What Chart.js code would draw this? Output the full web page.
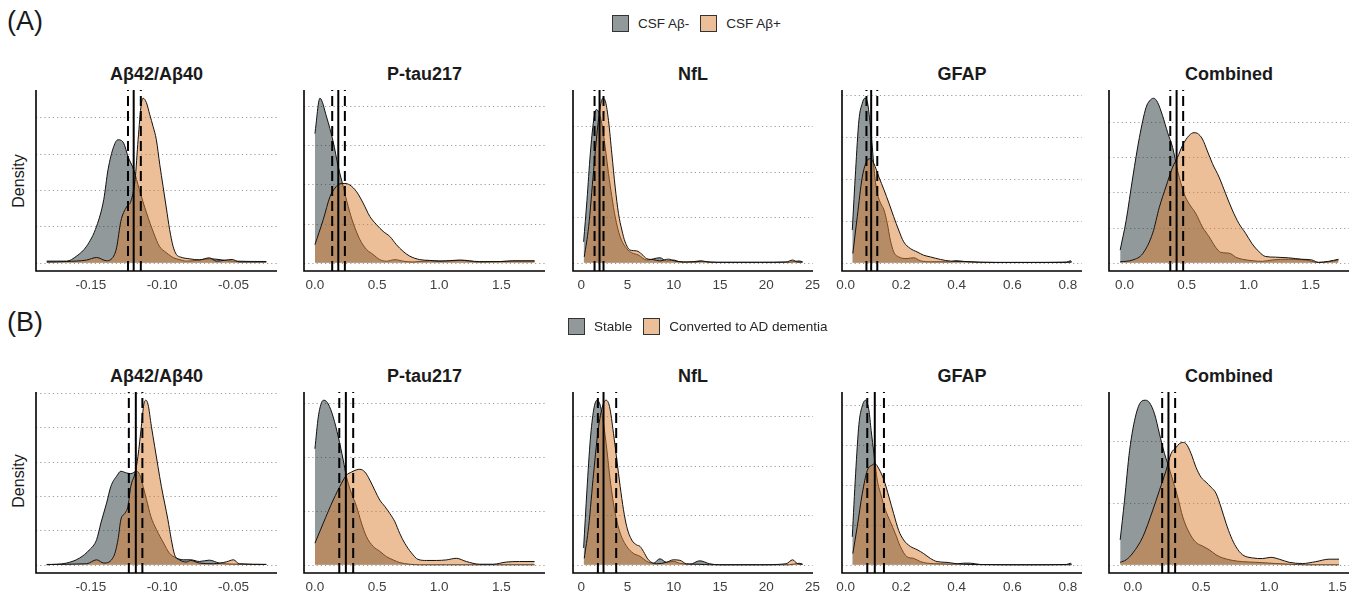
<!DOCTYPE html>
<html>
<head>
<meta charset="utf-8">
<script src="https://cdn.jsdelivr.net/npm/chart.js@4.4.0/dist/chart.umd.min.js"></script>
<style>
  body { margin:0; width:1359px; height:596px; background:#fff; position:relative; overflow:hidden;
         font-family:"Liberation Sans", Arial, Helvetica, sans-serif; color:#1a1a1a; }
  .tag { position:absolute; font-size:27px; line-height:30px; }
  .title { position:absolute; width:160px; text-align:center; font-size:18px; font-weight:bold; line-height:22px; }
  .ylab { position:absolute; width:100px; height:20px; line-height:20px; text-align:center; font-size:16px; transform:rotate(-90deg); }
  .legend { position:absolute; display:flex; align-items:center; height:17px; font-size:13.5px; color:#262626; }
  .key { width:17px; height:17px; box-sizing:border-box; border:1px solid #333; margin-right:9px; }
  .legend span { margin-right:11px; line-height:17px; white-space:nowrap; }
</style>
</head>
<body>
<script>
// --- data: density curves, [value, density] ---
// (A) CSF Aβ- vs CSF Aβ+
const aAbNeg = [[-0.181,0.9],[-0.167,0.9],[-0.160,3.7],[-0.153,9.1],[-0.146,20.1],[-0.141,34.7],[-0.138,51.1],[-0.134,63.9],[-0.131,67.6],[-0.127,65.7],[-0.124,58.4],[-0.120,51.1],[-0.116,40.2],[-0.111,27.4],[-0.106,16.4],[-0.102,9.1],[-0.097,5.5],[-0.092,2.7],[-0.088,1.8],[-0.083,0.9],[-0.074,1.5],[-0.067,2.2],[-0.050,0.9],[-0.027,0.7]];
const aAbPos = [[-0.181,0.4],[-0.167,0.7],[-0.153,1.5],[-0.146,2.9],[-0.139,1.1],[-0.134,3.7],[-0.132,8.2],[-0.129,22.8],[-0.125,30.7],[-0.122,33.8],[-0.119,45.7],[-0.1169,67.6],[-0.1146,87.6],[-0.1134,90.4],[-0.1111,88.0],[-0.1087,81.3],[-0.1064,74.9],[-0.1041,67.6],[-0.1017,53.9],[-0.0994,42.0],[-0.0971,30.1],[-0.0948,18.3],[-0.0924,9.1],[-0.0901,4.6],[-0.087,3.1],[-0.081,2.2],[-0.074,1.6],[-0.067,2.7],[-0.062,0.9],[-0.051,1.8],[-0.046,0.5],[-0.027,0.5]];
const aAbCut = [-0.124, -0.120, -0.115];

const aPtauNeg = [[0,3.29],[0.040,4.19],[0.094,3.71],[0.147,3.08],[0.188,2.44],[0.228,1.94],[0.268,1.43],[0.308,1.01],[0.362,0.59],[0.415,0.34],[0.469,0.21],[0.522,0.08],[0.576,0.04],[0.643,0.08],[0.710,0.04],[0.790,0.02],[0.924,0.05],[1.058,0.04],[1.165,0.06],[1.326,0.02],[1.594,0.04],[1.768,0.04]];
const aPtauPos = [[0,0.46],[0.067,1.10],[0.121,1.68],[0.161,1.90],[0.201,2.01],[0.241,2.02],[0.281,1.98],[0.335,1.81],[0.388,1.52],[0.442,1.18],[0.496,0.97],[0.549,0.80],[0.603,0.67],[0.656,0.46],[0.710,0.29],[0.763,0.17],[0.844,0.08],[0.924,0.06],[1.005,0.04],[1.165,0.07],[1.326,0.03],[1.487,0.03],[1.594,0.05],[1.768,0.05]];
const aPtauCut = [0.139, 0.188, 0.241];

const aNflNeg = [[0.25,0.046],[0.61,0.137],[0.97,0.239],[1.33,0.312],[1.61,0.336],[1.87,0.331],[2.22,0.305],[2.58,0.254],[2.94,0.196],[3.30,0.145],[3.66,0.101],[4.20,0.057],[4.91,0.031],[5.45,0.022],[6.17,0.017],[7.07,0.006],[8.50,0.011],[9.22,0.004],[9.94,0.006],[10.65,0.002],[11.37,0.001],[12.80,0.004],[13.52,0.002],[14.60,0.001],[19.26,0.001],[22.49,0.0015],[23.57,0.004],[23.92,0.002]];
const aNflPos = [[0.32,0.013],[0.79,0.079],[1.33,0.203],[1.69,0.283],[2.04,0.342],[2.33,0.361],[2.62,0.353],[2.94,0.312],[3.30,0.239],[3.66,0.166],[4.02,0.108],[4.38,0.072],[4.73,0.046],[5.27,0.028],[5.99,0.026],[6.53,0.019],[7.07,0.009],[7.78,0.007],[8.50,0.004],[9.40,0.008],[10.11,0.004],[11.01,0.002],[12.45,0.002],[12.98,0.004],[13.88,0.0015],[15.67,0.001],[19.26,0.001],[22.13,0.0015],[22.85,0.006],[23.39,0.0015],[23.92,0.0015]];
const aNflCut = [1.43, 1.97, 2.40];

const aGfapNeg = [[0.024,3.9],[0.036,11.0],[0.048,17.0],[0.060,19.0],[0.069,19.6],[0.078,19.2],[0.087,17.0],[0.096,13.8],[0.104,10.6],[0.114,8.3],[0.126,7.1],[0.138,6.3],[0.150,4.7],[0.161,2.7],[0.173,1.3],[0.191,0.7],[0.221,0.5],[0.245,0.6],[0.269,0.24],[0.305,0.12],[0.377,0.12],[0.395,0.24],[0.425,0.16],[0.484,0.04],[0.664,0.04],[0.795,0.08],[0.810,0.24],[0.813,0.08]];
const aGfapPos = [[0.026,1.1],[0.042,5.5],[0.060,10.2],[0.078,12.2],[0.090,12.4],[0.102,11.8],[0.120,10.2],[0.138,8.7],[0.156,7.1],[0.173,5.5],[0.191,3.9],[0.209,2.5],[0.233,1.7],[0.257,1.3],[0.281,0.9],[0.305,0.7],[0.341,0.4],[0.377,0.2],[0.425,0.16],[0.484,0.08],[0.544,0.04],[0.664,0.04],[0.783,0.04],[0.813,0.08]];
const aGfapCut = [0.075, 0.092, 0.114];

const aCombNeg = [[-0.035,0.18],[0.013,0.60],[0.067,1.22],[0.120,1.78],[0.174,2.21],[0.201,2.30],[0.235,2.34],[0.267,2.28],[0.307,2.09],[0.348,1.85],[0.388,1.64],[0.428,1.31],[0.481,0.98],[0.521,0.84],[0.575,0.70],[0.628,0.51],[0.682,0.37],[0.735,0.22],[0.775,0.15],[0.816,0.14],[0.856,0.13],[0.896,0.08],[0.949,0.05],[1.029,0.03],[1.110,0.02],[1.190,0.04],[1.324,0.05],[1.457,0.04],[1.564,0.005],[1.644,0.014],[1.725,0.04]];
const aCombPos = [[-0.035,0.014],[0.067,0.04],[0.147,0.13],[0.227,0.42],[0.281,0.79],[0.334,1.08],[0.388,1.36],[0.428,1.50],[0.468,1.67],[0.521,1.81],[0.561,1.85],[0.588,1.84],[0.628,1.76],[0.668,1.59],[0.709,1.41],[0.762,1.22],[0.816,0.98],[0.869,0.75],[0.922,0.56],[0.976,0.42],[1.029,0.27],[1.083,0.16],[1.136,0.09],[1.217,0.08],[1.324,0.07],[1.430,0.05],[1.511,0.04],[1.564,0.005],[1.644,0.02],[1.725,0.05]];
const aCombCut = [0.369, 0.420, 0.473];

// (B) Stable vs Converted to AD dementia
const bAbStable = [[-0.181,0],[-0.167,1.0],[-0.158,3.9],[-0.151,8.7],[-0.146,14.6],[-0.143,24.3],[-0.139,35.9],[-0.136,45.6],[-0.132,51.5],[-0.129,54.4],[-0.125,53.4],[-0.122,53.0],[-0.118,54.4],[-0.1157,52.4],[-0.1134,45.6],[-0.111,37.9],[-0.108,28.2],[-0.104,20.4],[-0.099,12.6],[-0.095,6.8],[-0.090,3.9],[-0.085,2.9],[-0.080,2.9],[-0.074,1.9],[-0.067,2.7],[-0.060,1.0],[-0.050,0.4],[-0.027,0.2]];
const bAbConv = [[-0.181,0.2],[-0.153,0.6],[-0.146,2.9],[-0.141,1.0],[-0.134,4.9],[-0.131,14.6],[-0.129,26.2],[-0.126,30.1],[-0.124,34.0],[-0.122,45.6],[-0.119,53.4],[-0.117,63.1],[-0.1146,80.6],[-0.1129,93.2],[-0.1115,95.7],[-0.1099,93.2],[-0.1076,80.6],[-0.1053,68.9],[-0.103,57.3],[-0.1006,45.6],[-0.0983,35.9],[-0.096,26.2],[-0.0936,14.6],[-0.0913,5.8],[-0.088,2.9],[-0.083,1.6],[-0.080,2.5],[-0.074,1.0],[-0.064,0.6],[-0.055,1.7],[-0.050,2.9],[-0.046,0.6],[-0.027,0.2]];
const bAbCut = [-0.1234, -0.1185, -0.1139];

const bPtauStable = [[0,2.15],[0.027,2.74],[0.054,3.01],[0.072,3.05],[0.107,2.98],[0.147,2.74],[0.188,2.37],[0.228,1.94],[0.254,1.63],[0.295,1.32],[0.335,1.08],[0.375,0.77],[0.415,0.52],[0.469,0.34],[0.522,0.25],[0.576,0.15],[0.630,0.09],[0.683,0.04],[0.763,0.01],[0.844,0],[1.058,0],[1.768,0]];
const bPtauConv = [[0,0.40],[0.067,0.77],[0.147,1.20],[0.214,1.51],[0.254,1.66],[0.295,1.72],[0.335,1.76],[0.362,1.77],[0.402,1.72],[0.442,1.57],[0.482,1.38],[0.522,1.20],[0.563,1.08],[0.603,0.95],[0.643,0.80],[0.683,0.58],[0.723,0.40],[0.777,0.22],[0.830,0.10],[0.897,0.08],[0.978,0.08],[1.058,0.09],[1.138,0.12],[1.219,0.06],[1.326,0.01],[1.433,0.01],[1.540,0.05],[1.647,0.06],[1.768,0.06]];
const bPtauCut = [0.196, 0.249, 0.308];

const bNflStable = [[0.25,0.034],[0.61,0.151],[0.97,0.252],[1.33,0.312],[1.69,0.332],[2.04,0.322],[2.40,0.285],[2.76,0.232],[3.12,0.171],[3.66,0.104],[4.20,0.064],[4.91,0.037],[5.63,0.023],[6.35,0.017],[7.07,0.007],[7.78,0.003],[8.50,0.012],[9.22,0.005],[9.94,0.007],[10.65,0.003],[11.73,0.001],[12.80,0.008],[13.88,0.002],[14.96,0],[19.26,0],[22.49,0],[23.57,0.003],[23.92,0.001]];
const bNflConv = [[0.32,0.013],[0.79,0.077],[1.33,0.185],[1.87,0.279],[2.40,0.326],[2.69,0.332],[3.05,0.319],[3.48,0.265],[3.84,0.211],[4.20,0.158],[4.56,0.111],[4.91,0.077],[5.45,0.050],[5.99,0.040],[6.35,0.037],[6.71,0.027],[7.25,0.010],[8.14,0.002],[9.22,0.005],[9.94,0.010],[10.65,0.009],[11.37,0.002],[12.80,0.001],[13.88,0],[19.26,0],[22.13,0.002],[22.85,0.010],[23.39,0.002],[23.92,0.001]];
const bNflCut = [1.79, 2.40, 3.77];

const bGfapStable = [[0.024,3.5],[0.036,11.4],[0.048,17.6],[0.060,19.9],[0.072,20.6],[0.084,19.3],[0.092,16.8],[0.102,13.9],[0.114,10.6],[0.126,8.9],[0.144,6.8],[0.161,5.4],[0.179,3.9],[0.197,2.3],[0.221,1.0],[0.245,0.8],[0.269,0.4],[0.293,0.2],[0.341,0.12],[0.389,0.08],[0.425,0.2],[0.449,0.2],[0.484,0.04],[0.664,0],[0.795,0.04],[0.810,0.2],[0.813,0.04]];
const bGfapConv = [[0.026,1.4],[0.042,4.8],[0.060,8.9],[0.078,11.8],[0.096,12.5],[0.105,12.65],[0.120,12.0],[0.138,10.6],[0.156,8.5],[0.173,6.4],[0.191,4.3],[0.209,3.1],[0.233,2.3],[0.257,1.9],[0.281,1.4],[0.305,0.8],[0.329,0.4],[0.365,0.3],[0.401,0.12],[0.449,0.04],[0.544,0],[0.813,0]];
const bGfapCut = [0.078, 0.105, 0.138];

const bCombStable = [[-0.093,0.40],[-0.061,1.04],[-0.024,1.84],[0.024,2.43],[0.068,2.64],[0.093,2.65],[0.122,2.61],[0.159,2.43],[0.195,2.11],[0.232,1.79],[0.256,1.63],[0.293,1.36],[0.329,1.09],[0.366,0.77],[0.415,0.51],[0.463,0.36],[0.512,0.30],[0.561,0.24],[0.610,0.16],[0.659,0.11],[0.732,0.07],[0.805,0.05],[0.902,0.04],[1.049,0.02],[1.146,0.01],[1.268,0],[1.512,0]];
const bCombConv = [[-0.093,0.04],[-0.049,0.08],[0,0.19],[0.073,0.45],[0.146,0.88],[0.195,1.20],[0.244,1.52],[0.280,1.79],[0.317,1.89],[0.341,1.95],[0.366,1.97],[0.390,1.95],[0.427,1.79],[0.463,1.57],[0.500,1.41],[0.537,1.33],[0.573,1.25],[0.610,1.15],[0.646,0.93],[0.683,0.67],[0.720,0.45],[0.756,0.29],[0.805,0.16],[0.878,0.11],[0.951,0.10],[1.012,0.12],[1.073,0.09],[1.146,0.04],[1.244,0.02],[1.341,0.05],[1.439,0.09],[1.512,0.09]];
const bCombCut = [0.215, 0.261, 0.310];

// --- labels and ticks ---
const markers = ["Aβ42/Aβ40", "P-tau217", "NfL", "GFAP", "Combined"];
const rowTags = ["(A)", "(B)"];
const rowGroups = [["CSF Aβ-", "CSF Aβ+"], ["Stable", "Converted to AD dementia"]];
const abTicks = [-0.15, -0.10, -0.05];
const ptauTicks = [0, 0.5, 1.0, 1.5];
const nflTicks = [0, 5, 10, 15, 20, 25];
const gfapTicks = [0, 0.2, 0.4, 0.6, 0.8];
const combTicks = [0, 0.5, 1.0, 1.5];

// --- layout / style ---
const GRAY = "rgba(35,52,55,0.5)";
const ORANGE = "rgba(217,128,50,0.5)";
const panelLeft = [36, 304, 573, 842, 1109];
const panelRight = [277, 545, 813, 1082, 1349];
const rowTop = [90, 392];
const plotH = 181;
const PADX = 18, PADT = 6, AXH = 30;

const rows = [
  [
    { neg: aAbNeg, pos: aAbPos, cut: aAbCut, ticks: abTicks, dec: 2, step: 20, xr: [-0.1885, -0.0195] },
    { neg: aPtauNeg, pos: aPtauPos, cut: aPtauCut, ticks: ptauTicks, dec: 1, step: 1, xr: [-0.088, 1.852] },
    { neg: aNflNeg, pos: aNflPos, cut: aNflCut, ticks: nflTicks, dec: 0, step: 0.1, xr: [-0.9, 25.05] },
    { neg: aGfapNeg, pos: aGfapPos, cut: aGfapCut, ticks: gfapTicks, dec: 1, step: 5, xr: [-0.013, 0.851] },
    { neg: aCombNeg, pos: aCombPos, cut: aCombCut, ticks: combTicks, dec: 1, step: 0.5, xr: [-0.125, 1.81] }
  ],
  [
    { neg: bAbStable, pos: bAbConv, cut: bAbCut, ticks: abTicks, dec: 2, step: 20, xr: [-0.1885, -0.0195] },
    { neg: bPtauStable, pos: bPtauConv, cut: bPtauCut, ticks: ptauTicks, dec: 1, step: 1, xr: [-0.088, 1.852] },
    { neg: bNflStable, pos: bNflConv, cut: bNflCut, ticks: nflTicks, dec: 0, step: 0.1, xr: [-0.9, 25.05] },
    { neg: bGfapStable, pos: bGfapConv, cut: bGfapCut, ticks: gfapTicks, dec: 1, step: 5, xr: [-0.013, 0.851] },
    { neg: bCombStable, pos: bCombConv, cut: bCombCut, ticks: combTicks, dec: 1, step: 1, xr: [-0.175, 1.585] }
  ]
];

function addDiv(cls, text, css) {
  const d = document.createElement("div");
  d.className = cls;
  d.textContent = text;
  Object.assign(d.style, css);
  document.body.appendChild(d);
  return d;
}

// dotted grid under the curves, vlines + axis lines on top
function decor(cut, step) {
  return {
    id: "decor",
    beforeDatasetsDraw(chart) {
      const { ctx, chartArea: a, scales: { y } } = chart;
      ctx.save();
      ctx.strokeStyle = "#9a9a9a";
      ctx.lineWidth = 1;
      ctx.setLineDash([1.2, 3]);
      for (let k = 0; k * step <= y.max + 1e-9; k++) {
        const py = Math.round(y.getPixelForValue(k * step)) + 0.5;
        ctx.beginPath();
        ctx.moveTo(a.left, py);
        ctx.lineTo(a.right, py);
        ctx.stroke();
      }
      ctx.restore();
    },
    afterDatasetsDraw(chart) {
      const { ctx, chartArea: a, scales: { x } } = chart;
      ctx.save();
      ctx.strokeStyle = "#000";
      ctx.lineWidth = 2;
      cut.forEach((v, i) => {
        const px = x.getPixelForValue(v);
        ctx.setLineDash(i === 1 ? [] : [10, 5]);
        ctx.beginPath();
        ctx.moveTo(px, a.bottom);
        ctx.lineTo(px, a.top);
        ctx.stroke();
      });
      ctx.setLineDash([]);
      ctx.lineWidth = 1.6;
      ctx.beginPath();
      ctx.moveTo(a.left, a.top);
      ctx.lineTo(a.left, a.bottom);
      ctx.lineTo(a.right, a.bottom);
      ctx.stroke();
      ctx.restore();
    }
  };
}

function makePanel(r, c, p) {
  const L = panelLeft[c], R = panelRight[c], T = rowTop[r];
  const W = R - L + 2 * PADX, H = plotH + PADT + AXH;
  const cv = document.createElement("canvas");
  cv.width = W; cv.height = H;
  cv.style.cssText = `position:absolute;left:${L - PADX}px;top:${T - PADT}px;width:${W}px;height:${H}px`;
  document.body.appendChild(cv);

  const peak = Math.max(...p.neg.map(d => d[1]), ...p.pos.map(d => d[1]));
  const line = { borderColor: "#111", borderWidth: 1, pointRadius: 0, fill: "origin", cubicInterpolationMode: "monotone" };

  new Chart(cv, {
    type: "line",
    data: {
      datasets: [
        Object.assign({ label: rowGroups[r][1], data: p.pos.map(([x, y]) => ({ x, y })), backgroundColor: ORANGE, order: 1 }, line),
        Object.assign({ label: rowGroups[r][0], data: p.neg.map(([x, y]) => ({ x, y })), backgroundColor: GRAY, order: 2 }, line)
      ]
    },
    options: {
      responsive: false,
      animation: false,
      devicePixelRatio: 1,
      layout: { padding: { left: PADX, right: PADX, top: PADT, bottom: 0 } },
      plugins: { legend: { display: false }, tooltip: { enabled: false }, title: { display: false } },
      scales: {
        x: {
          type: "linear",
          min: p.xr[0], max: p.xr[1],
          grid: { display: false, drawTicks: false, tickLength: 0 },
          border: { display: false },
          afterBuildTicks: s => { s.ticks = p.ticks.map(v => ({ value: v })); },
          afterFit: s => { s.height = AXH; },
          ticks: {
            autoSkip: false, maxRotation: 0, padding: 6,
            color: "#404040", font: { family: "'Liberation Sans', Arial, sans-serif", size: 13.5 },
            callback: v => Number(v).toFixed(p.dec)
          }
        },
        y: {
          min: -0.05 * peak, max: 1.05 * peak,
          grid: { display: false, drawTicks: false },
          border: { display: false },
          ticks: { display: false },
          afterFit: s => { s.width = 0; }
        }
      }
    },
    plugins: [decor(p.cut, p.step)]
  });
}

// panel tags, titles, y labels, legends
const titleTop = [63, 364.5];
const densityCy = [181, 481];
const legendPos = [[612, 15], [568, 318]];
const tagTop = [6, 307];

rows.forEach((row, r) => {
  addDiv("tag", rowTags[r], { left: "7px", top: tagTop[r] + "px" });
  addDiv("ylab", "Density", { left: (19 - 50) + "px", top: (densityCy[r] - 10) + "px" });
  markers.forEach((m, c) => {
    const cx = (panelLeft[c] + panelRight[c]) / 2;
    addDiv("title", m, { left: (cx - 80) + "px", top: titleTop[r] + "px" });
  });
  const lg = document.createElement("div");
  lg.className = "legend";
  lg.style.left = legendPos[r][0] + "px";
  lg.style.top = legendPos[r][1] + "px";
  [GRAY, ORANGE].forEach((col, i) => {
    const k = document.createElement("div");
    k.className = "key";
    k.style.background = col;
    const t = document.createElement("span");
    t.textContent = rowGroups[r][i];
    lg.appendChild(k);
    lg.appendChild(t);
  });
  document.body.appendChild(lg);
  row.forEach((p, c) => makePanel(r, c, p));
});
</script>
</body>
</html>
